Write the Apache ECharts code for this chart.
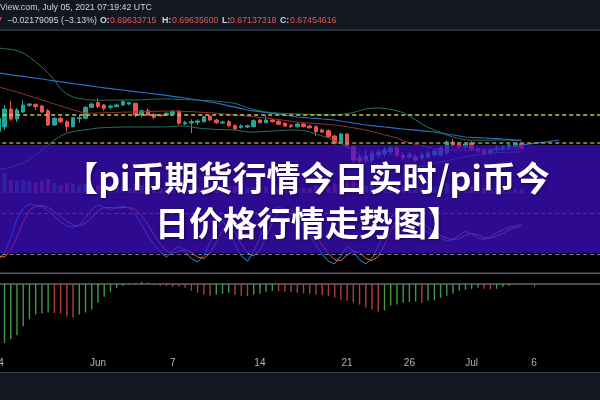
<!DOCTYPE html>
<html><head><meta charset="utf-8">
<script src="https://cdn.jsdelivr.net/npm/echarts@6/dist/echarts.min.js"></script>
<style>html,body{margin:0;padding:0;background:#000;}#c{width:600px;height:400px;}</style>
</head><body><div id="c"></div>
<script>
// ---- data ----
const tickDates = ['2021-05-24 00:00','2021-06-01 00:00','2021-06-07 00:00','2021-06-14 00:00','2021-06-21 00:00','2021-06-26 00:00','2021-07-01 00:00','2021-07-06 00:00'];
const tickLabels = ['24','Jun','7','14','21','26','Jul','6'];

const opens = [0.7565,0.78,0.87,0.82,0.855,0.8885,0.8935,0.885,0.8615,0.79,
 0.8235,0.8065,0.7815,0.8215,0.8235,0.8785,0.9015,0.89,0.8785,0.8815,
 0.89,0.895,0.8985,0.84,0.8615,0.8435,0.84,0.84,0.845,0.86,
 0.7965,0.80,0.8035,0.8065,0.835,0.815,0.80,0.8065,0.7865,0.7785,
 0.78,0.7815,0.815,0.8015,0.815,0.8085,0.7985,0.7885,0.7815,0.795,
 0.785,0.7815,0.765,0.7615,0.735,0.6985,0.745,0.68,0.625,0.615,
 0.615,0.64,0.645,0.655,0.675,0.64,0.63,0.63,0.625,0.63,
 0.64,0.64,0.65,0.705,0.695,0.68,0.70,0.67,0.665,0.65,
 0.665,0.67,0.675,0.68,0.69633715];
const closes = [0.8235,0.87,0.82,0.865,0.89,0.895,0.8815,0.855,0.79,0.8235,
 0.8065,0.7815,0.8265,0.8265,0.8785,0.895,0.8815,0.8735,0.885,0.89,
 0.9065,0.9015,0.84,0.8615,0.84,0.8285,0.8365,0.8485,0.8565,0.7985,
 0.8015,0.8065,0.81,0.8315,0.815,0.8015,0.805,0.7865,0.77,0.785,
 0.7865,0.8115,0.8015,0.815,0.8065,0.7935,0.785,0.7835,0.795,0.7815,
 0.7765,0.7565,0.755,0.7315,0.6985,0.745,0.6815,0.615,0.61,0.635,
 0.65,0.655,0.665,0.675,0.64,0.625,0.64,0.615,0.64,0.65,
 0.66,0.675,0.705,0.69,0.68,0.695,0.67,0.66,0.645,0.665,
 0.675,0.68,0.69,0.6963,0.67454616];
const lows = [0.74,0.765,0.81,0.805,0.85,0.88,0.865,0.85,0.785,0.785,
 0.80,0.7565,0.778,0.8015,0.8185,0.875,0.8735,0.8615,0.8685,0.8785,
 0.885,0.8885,0.8285,0.8285,0.835,0.8185,0.8315,0.835,0.84,0.79,
 0.79,0.7485,0.79,0.8015,0.81,0.795,0.7935,0.7785,0.765,0.7715,
 0.775,0.7785,0.7985,0.7985,0.8015,0.7885,0.78,0.7735,0.7765,0.7785,
 0.7715,0.735,0.7485,0.7265,0.6915,0.6935,0.6735,0.60,0.585,0.60,
 0.605,0.625,0.63,0.64,0.63,0.615,0.62,0.605,0.615,0.62,
 0.63,0.63,0.64,0.68,0.67,0.67,0.66,0.65,0.635,0.64,
 0.655,0.66,0.665,0.675,0.67137318];
const highs = [0.85,0.89,0.91,0.875,0.915,0.90,0.8975,0.89,0.87,0.83,
 0.83,0.815,0.83,0.84,0.885,0.9015,0.9235,0.895,0.8915,0.8985,
 0.915,0.905,0.9015,0.865,0.8735,0.8485,0.845,0.855,0.865,0.865,
 0.8115,0.8185,0.8185,0.8365,0.84,0.8215,0.8115,0.815,0.7935,0.7935,
 0.7915,0.8185,0.8215,0.84,0.82,0.815,0.8035,0.795,0.8015,0.8015,
 0.7915,0.7885,0.7715,0.7685,0.7415,0.7515,0.75,0.69,0.645,0.665,
 0.665,0.67,0.68,0.685,0.685,0.655,0.655,0.645,0.655,0.665,
 0.67,0.685,0.715,0.72,0.705,0.705,0.71,0.68,0.675,0.675,
 0.685,0.69,0.695,0.70,0.696356];
const volumes = [17,20,13,12,13,12,10,12,14,10, 8,10,9,8,9,7,8,7,6,6,
 7,5,10,8,7,6,5,5,6,11, 8,9,6,6,6,5,5,7,7,5, 5,6,5,6,5,5,6,5,5,5,
 5,7,5,7,9,9,12,16,9,8, 9,7,7,7,8,6,5,6,5,6, 6,7,10,7,6,6,7,5,5,5, 5,5,5,4,4];
const bbUpper = [1.175,1.172,1.168,1.162,1.15,1.13,1.105,1.08,1.05,1.015,
 0.97,0.945,0.93,0.922,0.918,0.915,0.914,0.914,0.914,0.915,
 0.915,0.915,0.915,0.916,0.918,0.919,0.92,0.92,0.919,0.918,
 0.917,0.916,0.915,0.913,0.911,0.909,0.906,0.903,0.898,0.888,
 0.876,0.868,0.861,0.855,0.852,0.85,0.848,0.846,0.845,0.844,
 0.843,0.842,0.841,0.84,0.84,0.843,0.847,0.852,0.862,0.87,
 0.874,0.875,0.873,0.868,0.861,0.852,0.835,0.815,0.795,0.778,
 0.765,0.752,0.74,0.73,0.722,0.716,0.714,0.714,0.714,0.714,
 0.715,0.715,0.715,0.715,0.715];
const bbLower = [0.565,0.572,0.58,0.59,0.60,0.615,0.64,0.665,0.69,0.715,
 0.735,0.75,0.757,0.762,0.766,0.771,0.775,0.777,0.778,0.779,
 0.78,0.78,0.78,0.78,0.78,0.78,0.78,0.781,0.783,0.785,
 0.785,0.78,0.775,0.772,0.77,0.768,0.767,0.766,0.765,0.76,
 0.755,0.755,0.756,0.758,0.76,0.762,0.764,0.765,0.765,0.762,
 0.755,0.745,0.735,0.725,0.712,0.698,0.682,0.665,0.64,0.618,
 0.60,0.592,0.585,0.58,0.577,0.575,0.576,0.579,0.584,0.59,
 0.597,0.604,0.61,0.618,0.625,0.631,0.637,0.642,0.646,0.65,
 0.652,0.653,0.654,0.655,0.655];
const maRed = [0.98,0.972,0.963,0.955,0.945,0.935,0.925,0.915,0.905,0.895,
 0.885,0.875,0.866,0.857,0.85,0.849,0.85,0.851,0.852,0.853,
 0.854,0.855,0.855,0.856,0.857,0.858,0.859,0.86,0.86,0.859,
 0.858,0.857,0.855,0.853,0.851,0.849,0.846,0.843,0.84,0.837,
 0.834,0.831,0.828,0.825,0.821,0.817,0.813,0.809,0.805,0.802,
 0.80,0.797,0.795,0.792,0.79,0.786,0.781,0.776,0.771,0.765,
 0.757,0.749,0.741,0.733,0.725,0.712,0.70,0.693,0.686,0.679,
 0.672,0.665,0.664,0.664,0.664,0.665,0.665,0.665,0.665,0.666,
 0.667,0.668,0.669,0.67,0.67];
const maBlue = [1.05,1.046,1.041,1.037,1.033,1.028,1.024,1.02,1.015,1.011,
 1.006,1.002,0.997,0.993,0.989,0.984,0.98,0.976,0.972,0.968,
 0.965,0.961,0.957,0.953,0.95,0.946,0.942,0.938,0.933,0.929,
 0.925,0.92,0.915,0.91,0.905,0.90,0.893,0.886,0.879,0.872,
 0.865,0.861,0.857,0.852,0.848,0.844,0.84,0.835,0.83,0.828,
 0.825,0.823,0.82,0.818,0.815,0.81,0.805,0.80,0.795,0.79,
 0.787,0.783,0.78,0.777,0.773,0.77,0.767,0.764,0.761,0.758,
 0.755,0.75,0.745,0.74,0.735,0.73,0.728,0.727,0.725,0.723,
 0.722,0.72,0.717,0.713,0.71];
const blueExtStart = '2021-07-05 00:00';
const blueExt = [0.69,0.694,0.698,0.702,0.706,0.71,0.714];
const stochK = [12,22,45,72,88,94,92,90,84,76, 68,62,60,63,74,86,93,89,86,89,
 91,88,79,64,48,34,24,16,26,32, 24,14,9,18,38,58,70,55,35,18,
 10,24,45,70,85,90,86,80,72,62, 48,34,20,10,6,18,32,24,12,6,
 14,32,55,74,84,88,80,68,58,52, 48,44,40,42,48,54,50,44,42,46, 52,56,60,62,64];
const stochD = [18,16,26,46,68,85,91,92,89,83, 76,69,63,62,66,74,84,89,89,88,
 89,89,86,77,64,49,35,25,22,25, 27,23,16,14,22,38,55,61,53,36,
 22,18,26,46,67,82,87,85,79,71, 61,48,34,21,12,11,19,25,23,14,
 11,17,34,54,71,82,84,79,69,59, 53,48,44,42,43,48,51,49,45,44, 47,51,56,59,62];
const macdHist = [-62,-60,-56,-52,-43,-36,-31,-30,-29,-29.5,
 -30,-33,-34,-31,-29,-26,-19,-13,-8,-4,
 -2,-1,0.5,2,1.5,-1.5,-2,-2.2,-2.4,-3,
 -4,-7,-9,-11,-12,-11,-10,-9,-11,-12,
 -12.5,-11,-10,-8,-7,-7.5,-8,-8.5,-9,-9.5,
 -10,-11,-11.5,-12,-14,-16,-17,-19,-21,-24,
 -26,-28,-27,-22,-21,-19,-18.5,-18,-19,-17,
 -16.5,-14,-12,-10,-7,-6,-5,-4,-5,-5.5,
 -5,-3,-2,-1,-0.8];
const priceLines = [0.845, 0.697];
const stochBands = [80, 20];
const headerLine1 = 'View.com, July 05, 2021 07:19:42 UTC';
const headerChange = '\u22120.02179095 (\u22123.13%)';
const ohlcLabels = ['O:', 'H:', 'L:', 'C:'];
const ohlcValues = ['0.69633715', '0.69635600', '0.67137318', '0.67454616'];
const titleLines = ['\u3010pi\u5e01\u671f\u8d27\u884c\u60c5\u4eca\u65e5\u5b9e\u65f6/pi\u5e01\u4eca', '\u65e5\u4ef7\u683c\u884c\u60c5\u8d70\u52bf\u56fe\u3011'];

// ---- categories: 12h slots ----
const categories = [];
(function(){
  const start = Date.UTC(2021, 4, 24);
  for (let k = 0; k < 98; k++) {
    const d = new Date(start + k * 12 * 3600e3);
    categories.push(d.toISOString().slice(0, 16).replace('T', ' '));
  }
})();

const candleData = opens.map((o, i) => [o, closes[i], lows[i], highs[i]]);
const extOffset = categories.indexOf(blueExtStart);
const blueExtData = categories.map((c, i) => (i >= extOffset && i - extOffset < blueExt.length) ? blueExt[i - extOffset] : null);

const UP = '#26a69a', DOWN = '#ef5350';
const GL = -4.8, GR = -5.6;

function xAx(idx, showLabels) {
  const base = {
    type: 'category', gridIndex: idx, data: categories, boundaryGap: true,
    axisLine: { show: false }, axisTick: { show: false }, axisLabel: { show: false },
    splitLine: { show: false }
  };
  if (showLabels) {
    const iv = (i, v) => tickDates.indexOf(v) >= 0;
    base.axisLine = { show: true, lineStyle: { color: '#4a4d56', width: 2 } };
    base.axisTick = { show: true, interval: iv, alignWithLabel: true, length: 3, lineStyle: { color: '#6a6d76' } };
    base.axisLabel = { show: true, interval: iv, formatter: v => tickLabels[tickDates.indexOf(v)],
      color: '#b2b5be', fontSize: 10, margin: 5, fontFamily: 'Liberation Sans', hideOverlap: false };
  }
  return base;
}

function gridAt(top, height) {
  return { left: GL, right: GR, top: top, height: height, containLabel: false, outerBoundsMode: 'none' };
}

const chart = echarts.init(document.getElementById('c'));
const option = {
  animation: false,
  backgroundColor: '#000000',
  grid: [gridAt(32, 161), gridAt(163, 30), gridAt(200, 68), gridAt(274, 79)],
  xAxis: [xAx(0), xAx(1), xAx(2), xAx(3, true)],
  yAxis: [
    { type: 'value', gridIndex: 0, min: 0.45, max: 1.255, show: false },
    { type: 'value', gridIndex: 1, min: 0, max: 30, show: false },
    { type: 'value', gridIndex: 2, min: 0, max: 100, show: false },
    { type: 'value', gridIndex: 3, min: -70, max: 10, show: false }
  ],
  series: [
    { type: 'bar', xAxisIndex: 1, yAxisIndex: 1, data: volumes, barWidth: 4, silent: true,
      itemStyle: { color: p => closes[p.dataIndex] >= opens[p.dataIndex] ? 'rgba(38,166,154,0.5)' : 'rgba(239,83,80,0.5)' } },
    { type: 'line', xAxisIndex: 0, yAxisIndex: 0, data: bbUpper, showSymbol: false, silent: true,
      lineStyle: { color: '#22735a', width: 1 } },
    { type: 'line', xAxisIndex: 0, yAxisIndex: 0, data: bbLower, showSymbol: false, silent: true,
      lineStyle: { color: '#22735a', width: 1 } },
    { type: 'line', xAxisIndex: 0, yAxisIndex: 0, data: maBlue, showSymbol: false, silent: true,
      lineStyle: { color: '#2d6cc0', width: 1.2 } },
    { type: 'line', xAxisIndex: 0, yAxisIndex: 0, data: blueExtData, showSymbol: false, silent: true,
      lineStyle: { color: '#2d6cc0', width: 1.2 } },
    { type: 'line', xAxisIndex: 0, yAxisIndex: 0, data: maRed, showSymbol: false, silent: true,
      lineStyle: { color: '#8e3434', width: 1 } },
    { type: 'candlestick', xAxisIndex: 0, yAxisIndex: 0, data: candleData, barWidth: 4, silent: true,
      itemStyle: { color: UP, color0: DOWN, borderColor: UP, borderColor0: DOWN, borderWidth: 1 },
      markLine: { silent: true, symbol: ['none', 'none'], label: { show: false },
        data: [
          { yAxis: priceLines[0], lineStyle: { color: '#c8c850', type: [4, 3], width: 1.5 } },
          { yAxis: priceLines[1], lineStyle: { color: '#9a9a70', type: [4, 3], width: 1.5 } }
        ] } },
    { type: 'line', xAxisIndex: 2, yAxisIndex: 2, data: stochD, showSymbol: false, silent: true,
      lineStyle: { color: '#ff6d00', width: 1 },
      markLine: { silent: true, symbol: ['none', 'none'], label: { show: false },
        lineStyle: { color: '#787b86', type: [4, 3], width: 1 },
        data: stochBands.map(v => ({ yAxis: v })) } },
    { type: 'line', xAxisIndex: 2, yAxisIndex: 2, data: stochK, showSymbol: false, silent: true,
      lineStyle: { color: '#2196f3', width: 1 } },
    { type: 'bar', xAxisIndex: 3, yAxisIndex: 3, data: macdHist, barWidth: 1.4, silent: true,
      itemStyle: { color: p => (p.dataIndex === 0 || macdHist[p.dataIndex] >= macdHist[p.dataIndex - 1]) ? '#3f9a45' : '#b0403f' } }
  ],
  graphic: [
    { type: 'rect', z: 90, shape: { x: 0, y: 0, width: 600, height: 29 }, style: { fill: '#131722' } },
    { type: 'rect', z: 90, shape: { x: 0, y: 29, width: 600, height: 2 }, style: { fill: '#2a2e39' } },
    { type: 'rect', z: 90, shape: { x: 0, y: 272.5, width: 600, height: 1.5 }, style: { fill: '#55585f' } },
    { type: 'rect', z: 90, shape: { x: 0, y: 372, width: 600, height: 1.5 }, style: { fill: '#3a3d45' } },
    { type: 'rect', z: 90, shape: { x: 0, y: 373.5, width: 600, height: 26.5 }, style: { fill: '#131722' } },
    { type: 'rect', z: 100, shape: { x: 0, y: 145, width: 600, height: 108 }, style: { fill: 'rgba(64,14,200,0.72)' } },
    { type: 'text', z: 101, style: { text: titleLines[0], x: 307, y: 178, textAlign: 'center', textVerticalAlign: 'middle',
      fontFamily: '"Noto Sans CJK SC"', fontWeight: 'bold', fontSize: 34, fill: '#ffffff',
      textShadowColor: 'rgba(0,0,0,0.45)', textShadowBlur: 3, textShadowOffsetX: 1, textShadowOffsetY: 1 } },
    { type: 'text', z: 101, style: { text: titleLines[1], x: 308, y: 223, textAlign: 'center', textVerticalAlign: 'middle',
      fontFamily: '"Noto Sans CJK SC"', fontWeight: 'bold', fontSize: 34, fill: '#ffffff',
      textShadowColor: 'rgba(0,0,0,0.45)', textShadowBlur: 3, textShadowOffsetX: 1, textShadowOffsetY: 1 } },
    { type: 'text', z: 95, style: { text: headerLine1, x: 0, y: 8, textVerticalAlign: 'middle',
      fontFamily: 'Liberation Sans', fontSize: 8.8, fill: '#d1d4dc' } },
    { type: 'text', z: 95, style: { text: '\u25BC', x: -5, y: 21, textVerticalAlign: 'middle',
      fontFamily: 'DejaVu Sans', fontSize: 9, fill: '#ef5350' } },
    { type: 'text', z: 95, style: { text: headerChange, x: 7, y: 21, textVerticalAlign: 'middle',
      fontFamily: 'Liberation Sans', fontSize: 8.8, fill: '#d1d4dc' } },
    ...ohlcLabels.map((l, k) => ({ type: 'text', z: 95, style: { text: l, x: [100, 162, 222, 280][k], y: 21, textVerticalAlign: 'middle',
      fontFamily: 'Liberation Sans', fontSize: 8.8, fontWeight: 'bold', fill: '#d1d4dc' } })),
    ...ohlcValues.map((v, k) => ({ type: 'text', z: 95, style: { text: v, x: [110, 172, 230, 290][k], y: 21, textVerticalAlign: 'middle',
      fontFamily: 'Liberation Sans', fontSize: 8.8, fill: '#ef5350' } }))
  ]
};
chart.setOption(option);
</script>
</body></html>
